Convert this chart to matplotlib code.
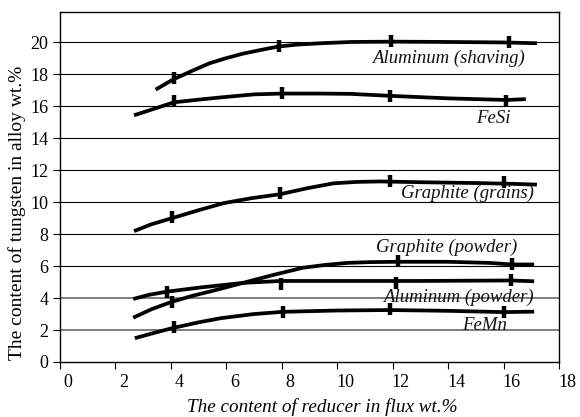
import matplotlib
matplotlib.use("Agg")
import matplotlib.pyplot as plt
from matplotlib.transforms import ScaledTranslation

plt.rcParams['font.family'] = ['Liberation Serif', 'DejaVu Serif']

# ---- data ----
al_shaving_x = [3.45, 4.1, 4.8, 5.4, 6.0, 6.6, 7.3, 7.9, 8.6, 9.4, 10.5, 12.0, 14.0, 16.0, 17.2]
al_shaving_y = [17.05, 17.7, 18.25, 18.7, 19.02, 19.3, 19.55, 19.75, 19.87, 19.95, 20.03, 20.05, 20.03, 20.0, 19.95]
al_shaving_mx = [4.1, 7.9, 11.95, 16.2]
al_shaving_my = [17.75, 19.8, 20.1, 20.0]

fesi_x = [2.67, 3.4, 4.1, 5.0, 5.8, 7.0, 8.0, 9.4, 10.5, 12.0, 14.0, 16.1, 16.8]
fesi_y = [15.44, 15.85, 16.25, 16.42, 16.56, 16.75, 16.8, 16.8, 16.78, 16.65, 16.5, 16.4, 16.45]
fesi_mx = [4.1, 8.0, 11.9, 16.1]
fesi_my = [16.35, 16.85, 16.65, 16.35]

gr_grains_x = [2.67, 3.3, 4.04, 5.0, 5.9, 6.9, 7.94, 8.9, 9.86, 10.7, 11.55, 13.0, 15.0, 16.3, 17.2]
gr_grains_y = [8.19, 8.62, 9.0, 9.5, 9.94, 10.25, 10.5, 10.87, 11.18, 11.27, 11.3, 11.25, 11.2, 11.15, 11.1]
gr_grains_mx = [4.04, 7.94, 11.9, 16.0]
gr_grains_my = [9.05, 10.55, 11.3, 11.25]

gr_powder_x = [2.64, 3.3, 4.04, 4.8, 5.5, 6.6, 7.7, 8.77, 9.6, 10.36, 11.2, 12.17, 14.0, 15.5, 16.3, 17.1]
gr_powder_y = [2.77, 3.3, 3.77, 4.15, 4.45, 4.95, 5.45, 5.9, 6.08, 6.2, 6.25, 6.27, 6.27, 6.2, 6.1, 6.1]
gr_powder_mx = [4.04, 12.2, 16.3]
gr_powder_my = [3.75, 6.35, 6.15]

al_powder_x = [2.64, 3.2, 3.86, 5.0, 6.6, 7.97, 10.0, 13.0, 16.25, 17.1]
al_powder_y = [3.94, 4.2, 4.4, 4.65, 4.95, 5.07, 5.07, 5.07, 5.1, 5.05]
al_powder_mx = [3.86, 7.97, 12.1, 16.25]
al_powder_my = [4.4, 4.9, 4.95, 5.15]

femn_x = [2.7, 3.4, 4.1, 5.0, 5.8, 7.0, 8.05, 10.0, 11.9, 14.0, 16.0, 17.1]
femn_y = [1.49, 1.82, 2.14, 2.48, 2.74, 3.0, 3.14, 3.22, 3.25, 3.2, 3.12, 3.15]
femn_mx = [4.1, 8.05, 11.9, 16.0]
femn_my = [2.2, 3.15, 3.3, 3.15]

series_labels = ["Aluminum (shaving)", "FeSi", "Graphite (grains)",
                 "Graphite (powder)", "Aluminum (powder)", "FeMn"]
label_x = [14.0, 15.62, 14.7, 13.96, 14.36, 15.3]
label_y = [19.0, 15.25, 10.56, 7.19, 4.06, 2.31]

xticks = [0, 2, 4, 6, 8, 10, 12, 14, 16, 18]
yticks = [0, 2, 4, 6, 8, 10, 12, 14, 16, 18, 20]

# ---- figure ----
fig = plt.figure(figsize=(5.8, 4.17), dpi=100)
ax = fig.add_axes([0.1034, 0.132, 0.8606, 0.839])
ax.set_xlim(0, 18)
ax.set_ylim(0, 21.9)

for v in yticks[1:]:
    if v in (2, 4):
        ax.axhline(v, color='#7f7f7f', lw=1.4, zorder=1)
    else:
        ax.axhline(v, color='black', lw=0.8, zorder=1)

curves = [
    (al_shaving_x, al_shaving_y, al_shaving_mx, al_shaving_my),
    (fesi_x, fesi_y, fesi_mx, fesi_my),
    (gr_grains_x, gr_grains_y, gr_grains_mx, gr_grains_my),
    (gr_powder_x, gr_powder_y, gr_powder_mx, gr_powder_my),
    (al_powder_x, al_powder_y, al_powder_mx, al_powder_my),
    (femn_x, femn_y, femn_mx, femn_my),
]
for cx, cy, mx, my in curves:
    ax.plot(cx, cy, color='black', lw=2.7, solid_capstyle='butt',
            solid_joinstyle='round', zorder=3)
    ax.plot(mx, my, linestyle='none', marker='|', markersize=9,
            markeredgewidth=3.2, color='black', zorder=4)

for t, lx, ly in zip(series_labels, label_x, label_y):
    ax.text(lx, ly, t, ha='center', va='center', fontsize=13.5,
            style='italic', color='#111111', zorder=5)

ax.set_xticks(xticks)
ax.set_yticks(yticks)
ax.tick_params(direction='out', length=5, width=0.8, labelsize=13,
               colors='black')
for lab in ax.get_xticklabels():
    lab.set_transform(lab.get_transform() +
                      ScaledTranslation(0.08, 0, fig.dpi_scale_trans))

for s in ax.spines.values():
    s.set_linewidth(1.0)
    s.set_color('black')

fig.text(0.556, 0.024, "The content of reducer in flux wt.%", ha='center',
         va='center', fontsize=13.8, style='italic')
fig.text(0.03, 0.49, "The content of tungsten in alloy wt.%", ha='center',
         va='center', fontsize=14, rotation=90)

fig.savefig("out.png", dpi=100)
